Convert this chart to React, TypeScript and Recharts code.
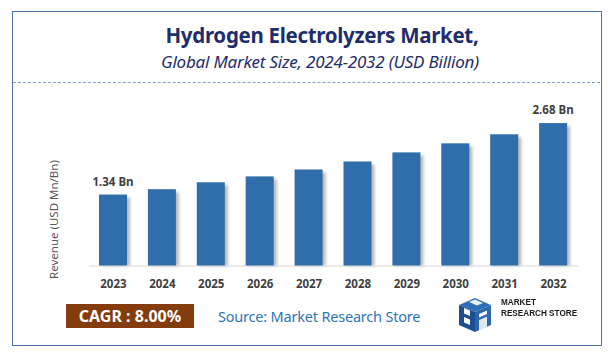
import React from "react"
import { Bar, BarChart, LabelList, XAxis, YAxis } from "recharts"

const years = ["2023", "2024", "2025", "2026", "2027", "2028", "2029", "2030", "2031", "2032"]
const revenue = [1.34, 1.44, 1.57, 1.68, 1.81, 1.96, 2.13, 2.3, 2.47, 2.68]
const shownLabels = ["1.34 Bn", "", "", "", "", "", "", "", "", "2.68 Bn"]

const data = years.map((year, i) => ({ year, value: revenue[i], label: shownLabels[i] }))

const font = "'Noto Sans', 'Open Sans', sans-serif"

function ShadowBar(props: any) {
  const { x, y, width, height, fill } = props
  return (
    <g>
      <defs>
        <filter id="barShadow" x="-50%" y="-10%" width="200%" height="130%">
          <feGaussianBlur stdDeviation="1.6" />
        </filter>
      </defs>
      <rect x={x + 3} y={y + 3} width={width} height={Math.max(height - 3, 0)} fill="#7f7f7f" opacity={0.55} filter="url(#barShadow)" />
      <rect x={x} y={y} width={width} height={height} fill={fill} />
    </g>
  )
}

function TopLabel(props: any) {
  const { x, y, width, value } = props
  if (!value) return null
  return (
    <text
      x={x + width / 2}
      y={y - 9}
      textAnchor="middle"
      fill="#404040"
      fontSize={11.5}
      fontWeight={700}
      fontFamily={font}
    >
      {value}
    </text>
  )
}

function Logo() {
  return (
    <svg width={40} height={36} viewBox="0 0 40 36" style={{ position: "absolute", left: 455, top: 297 }}>
      <polygon points="4,8 20,1 36,8 20,15" fill="#2f6fb8" />
      <polygon points="4,8 20,15 20,35 4,28" fill="#1d4f8f" />
      <polygon points="20,15 36,8 36,28 20,35" fill="#2a67ad" />
      <polygon points="9,11 15,13.5 15,19 9,16.5" fill="#ffffff" />
      <polygon points="9,20 15,22.5 15,28 9,25.5" fill="#ffffff" />
      <polygon points="24,17 32,13.5 32,17 24,20.5" fill="#ffffff" />
      <polygon points="24,23 32,19.5 32,30 24,33.5" fill="#ffffff" opacity={0.85} />
      <polygon points="14,5 20,2.5 28,6 22,8.5" fill="#ffffff" opacity={0.9} />
    </svg>
  )
}

const logoText: React.CSSProperties = {
  position: "absolute",
  left: 501,
  fontSize: 9.5,
  lineHeight: "11px",
  height: 11,
  fontWeight: 700,
  color: "#1a1a1a",
  fontFamily: "'Liberation Sans', Arial, sans-serif",
  transform: "scaleX(0.86)",
  transformOrigin: "left top",
  whiteSpace: "nowrap",
}

export default function App() {
  return (
    <div style={{ position: "absolute", left: 0, top: 0, width: 616, height: 360, background: "#ffffff", fontFamily: font }}>
      <div
        style={{
          position: "absolute",
          left: 12,
          top: 11,
          width: 588,
          height: 333,
          border: "1.5px solid #4a74a8",
        }}
      />
      <div
        style={{
          position: "absolute",
          left: 0,
          width: 644,
          top: 21,
          textAlign: "center",
          fontSize: 20.5,
          fontWeight: 700,
          color: "#1f2d6b",
          letterSpacing: -0.3,
        }}
      >
        Hydrogen Electrolyzers Market,
      </div>
      <div
        style={{
          position: "absolute",
          left: 0,
          width: 640,
          top: 50,
          textAlign: "center",
          fontSize: 17,
          fontStyle: "italic",
          color: "#1f2d6b",
          letterSpacing: -0.2,
        }}
      >
        Global Market Size, 2024-2032 (USD Billion)
      </div>
      <div style={{ position: "absolute", left: 13, width: 587, top: 82, borderTop: "1px dashed #7f9fcf" }} />
      <div
        style={{
          position: "absolute",
          left: 53 - 70,
          top: 212,
          width: 140,
          textAlign: "center",
          transform: "rotate(-90deg)",
          fontSize: 11.5,
          color: "#595959",
        }}
      >
        Revenue (USD Mn/Bn)
      </div>

      <div style={{ position: "absolute", left: 0, top: 0 }}>
        <BarChart width={616} height={360} data={data} margin={{ top: 106, right: 38, bottom: 64, left: 89 }}>
          <XAxis
            dataKey="year"
            height={30}
            tickLine={false}
            axisLine={{ stroke: "#d9d9d9" }}
            tick={{ fill: "#404040", fontSize: 11.5, fontWeight: 700, fontFamily: font }}
            tickMargin={8}
            interval={0}
          />
          <YAxis hide domain={[0, 3]} />
          <Bar dataKey="value" fill="#2f6eaa" barSize={28} shape={<ShadowBar />} isAnimationActive={false}>
            <LabelList dataKey="label" content={<TopLabel />} />
          </Bar>
        </BarChart>
      </div>

      <div
        style={{
          position: "absolute",
          left: 66,
          top: 304,
          width: 128,
          height: 24,
          background: "#843c0c",
          color: "#ffffff",
          fontWeight: 700,
          fontSize: 16,
          lineHeight: "24px",
          textAlign: "center",
        }}
      >
        CAGR : 8.00%
      </div>
      <div style={{ position: "absolute", left: 218, top: 304, fontSize: 14.5, lineHeight: "24px", color: "#2e75b6", letterSpacing: -0.2 }}>
        Source: Market Research Store
      </div>
      <Logo />
      <div style={{ ...logoText, top: 296 }}>MARKET</div>
      <div style={{ ...logoText, top: 307 }}>RESEARCH STORE</div>
    </div>
  )
}
